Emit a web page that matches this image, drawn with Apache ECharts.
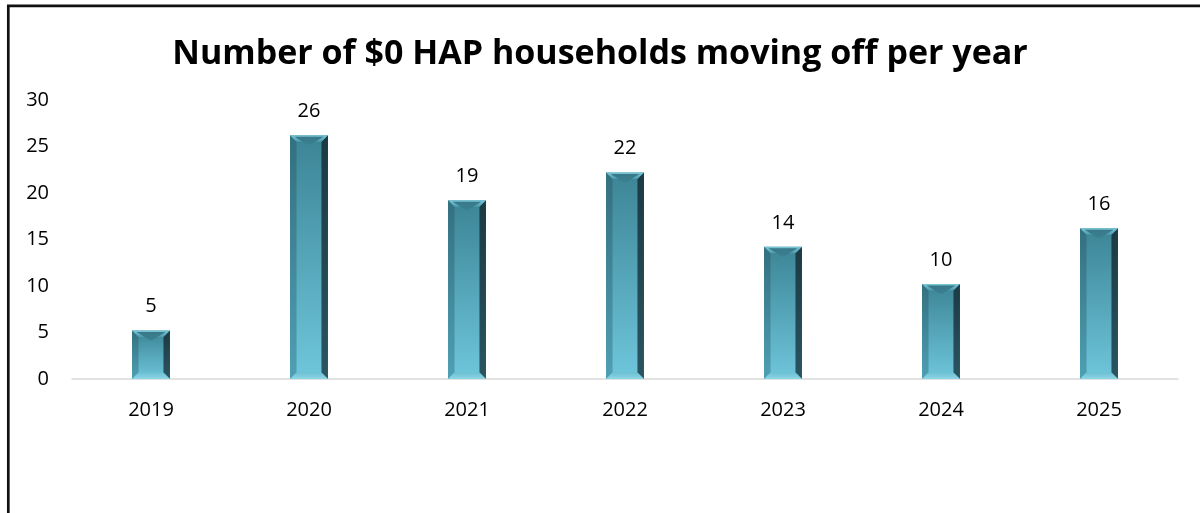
<!DOCTYPE html>
<html>
<head>
<meta charset="utf-8">
<title>Number of $0 HAP households moving off per year</title>
<script src="https://cdn.jsdelivr.net/npm/echarts@6/dist/echarts.min.js"></script>
<style>
  html, body { margin: 0; padding: 0; background: #fff; }
  #chart { width: 1200px; height: 513px; }
</style>
</head>
<body>
<div id="chart"></div>
<script>
// Households with $0 HAP that moved off assistance, by year
const titleText = 'Number of $0 HAP households moving off per year';
const years = ['2019', '2020', '2021', '2022', '2023', '2024', '2025'];
const householdsMovingOff = [5, 26, 19, 22, 14, 10, 16];
const yTicks = [0, 5, 10, 15, 20, 25, 30];

const FONT = '"Open Sans", "Noto Sans", sans-serif';

// Bevelled teal column: a face with side, top and bottom bevel facets,
// plus its value written above it
function renderBevelBar(params, api) {
  const cat = api.value(0);
  const val = api.value(1);
  const topPt = api.coord([cat, val]);
  const basePt = api.coord([cat, 0]);
  const w = api.size([1, 0])[0] * 0.24;
  const x0 = topPt[0] - w / 2, x1 = topPt[0] + w / 2;
  const y0 = topPt[1] - 2, y1 = basePt[1];
  const b = Math.min(6.5, (y1 - y0) / 3);
  const cx = (x0 + x1) / 2;
  const vGrad = (c0, c1) => new echarts.graphic.LinearGradient(0, 0, 0, 1, [
    { offset: 0, color: c0 }, { offset: 1, color: c1 }
  ]);
  return {
    type: 'group',
    children: [
      { type: 'rect', shape: { x: x0, y: y0, width: w, height: y1 - y0 },
        style: { fill: vGrad('#3b8495', '#6fc6db') } },
      { type: 'polygon', shape: { points: [[x0, y0], [x0 + b, y0 + b], [x0 + b, y1 - b], [x0, y1]] },
        style: { fill: vGrad('#336f7f', '#4f9fb3') } },
      { type: 'polygon', shape: { points: [[x1, y0], [x1 - b, y0 + b], [x1 - b, y1 - b], [x1, y1]] },
        style: { fill: vGrad('#1b3a44', '#2a5561') } },
      { type: 'polygon', shape: { points: [[x0, y0], [x1, y0], [x1 - b, y0 + b], [x0 + b, y0 + b]] },
        style: { fill: vGrad('#7cc9da', '#4a98ab') } },
      { type: 'polygon', shape: { points: [[x0 + b * 0.7, y0 + 1.5], [x1 - b * 0.7, y0 + 1.5], [cx, y0 + b + 4]] },
        style: { fill: vGrad('#2f6c7c', '#3d8394'), opacity: 0.85 } },
      { type: 'polygon', shape: { points: [[x0, y1], [x1, y1], [x1 - b, y1 - b], [x0 + b, y1 - b]] },
        style: { fill: vGrad('#6cbfd3', '#8ed6e6') } },
      { type: 'text',
        style: {
          x: cx, y: y0 - 24,
          text: String(val),
          align: 'center', verticalAlign: 'middle',
          fill: '#000', font: '20px ' + FONT
        } }
    ]
  };
}

const chart = echarts.init(document.getElementById('chart'), null, { renderer: 'canvas' });

chart.setOption({
  animation: false,
  backgroundColor: '#ffffff',
  title: {
    text: titleText,
    left: 'center',
    top: 32,
    textStyle: { fontFamily: FONT, fontSize: 34, fontWeight: 'bold', color: '#000' }
  },
  grid: { left: 72, right: 22, top: 100, bottom: 134, containLabel: false },
  xAxis: {
    type: 'category',
    data: years,
    axisLine: { show: true, lineStyle: { color: '#d9d9d9', width: 1.5 } },
    axisTick: { show: false },
    axisLabel: { color: '#000', fontFamily: FONT, fontSize: 20, margin: 21 },
    splitLine: { show: false }
  },
  yAxis: {
    type: 'value',
    min: yTicks[0],
    max: yTicks[yTicks.length - 1],
    interval: yTicks[1] - yTicks[0],
    axisLine: { show: false },
    axisTick: { show: false },
    splitLine: { show: false },
    axisLabel: { color: '#000', fontFamily: FONT, fontSize: 20, margin: 23 }
  },
  series: [
    {
      type: 'custom',
      renderItem: renderBevelBar,
      data: years.map((y, i) => [i, householdsMovingOff[i]]),
      encode: { x: 0, y: 1 }
    }
  ],
  graphic: [
    {
      type: 'rect',
      silent: true,
      shape: { x: 8.3, y: 5.8, width: 1400, height: 700 },
      style: { fill: 'none', stroke: '#111', lineWidth: 2.7 },
      z: 100
    }
  ]
});
</script>
</body>
</html>
